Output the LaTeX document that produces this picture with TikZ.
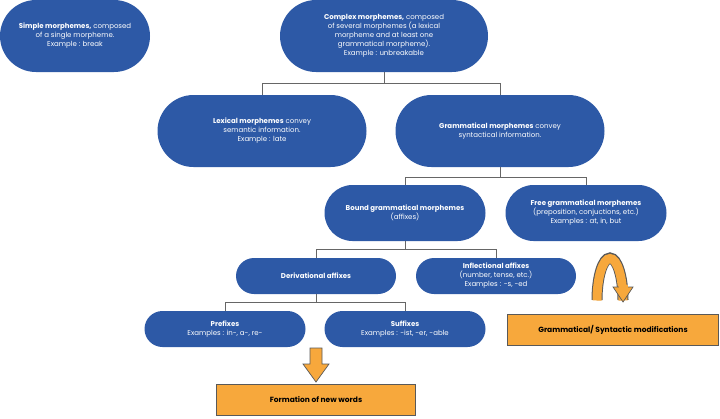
\documentclass[tikz,border=0pt]{standalone}
\usepackage{fontspec}
\setmainfont{Poppins}
\definecolor{morphblue}{HTML}{2D59A6}
\definecolor{morphorange}{HTML}{F7A83C}
\tikzset{
  pill/.style={fill=morphblue, text=white, align=center, inner sep=0pt,
    font=\fontsize{7}{9}\selectfont},
  link/.style={draw=gray!80!black, line width=1pt},
  result/.style={fill=morphorange, draw=gray!70!black, line width=0.8pt,
    font=\fontsize{7.5}{9}\selectfont\bfseries, inner sep=0pt}
}
\newcommand{\pillnode}[6]{% name, cx, cy, w, h, text
  \fill[morphblue, rounded corners=#5*0.5pt] (#2-#4/2,#3-#5/2) rectangle (#2+#4/2,#3+#5/2);
  \node[pill] (#1) at (#2,#3) {#6};
  \coordinate (#1-t) at (#2,#3-#5/2);
  \coordinate (#1-b) at (#2,#3+#5/2);}
\begin{document}
\begin{tikzpicture}[x=1pt,y=-1pt]
  \useasboundingbox (0,0) rectangle (720,418);
  % top row
  \pillnode{simple}{75}{36}{150}{72}{\textbf{Simple morphemes,} composed\\of a single morpheme.\\Example : break}
  \pillnode{complex}{384}{36}{208}{72}{\textbf{Complex morphemes,} composed\\of several morphemes (a lexical\\morpheme and at least one\\grammatical morpheme).\\Example : unbreakable}
  % second row
  \pillnode{lexical}{262}{131}{209}{72}{\textbf{Lexical morphemes} convey\\semantic information.\\Example : late}
  \pillnode{gram}{500}{131}{209}{72}{\textbf{Grammatical morphemes} convey\\syntactical information.}
  % third row
  \pillnode{bound}{405}{213}{161}{56}{\textbf{Bound grammatical morphemes}\\(affixes)}
  \pillnode{free}{586}{213}{161}{56}{\textbf{Free grammatical morphemes}\\(preposition, conjuctions, etc.)\\Examples : at, in, but}
  % affixes
  \pillnode{deriv}{316}{276}{160}{36}{\textbf{Derivational affixes}}
  \pillnode{infl}{496}{276}{160}{36}{\textbf{Inflectional affixes}\\(number, tense, etc.)\\Examples : -s, -ed}
  \pillnode{prefix}{225}{329}{161}{36}{\textbf{Prefixes}\\Examples : in-, a-, re-}
  \pillnode{suffix}{405}{329}{161}{36}{\textbf{Suffixes}\\Examples : -ist, -er, -able}
  % tree links
  \draw[link] (complex-b) -- ++(0,11) -| (lexical-t);
  \draw[link] (complex-b) -- ++(0,11) -| (gram-t);
  \draw[link] (gram-b) -- ++(0,10) -| (bound-t);
  \draw[link] (gram-b) -- ++(0,10) -| (free-t);
  \draw[link] (bound-b) -- ++(0,8) -| (deriv-t);
  \draw[link] (bound-b) -- ++(0,8) -| (infl-t);
  \draw[link] (deriv-b) -- ++(0,8) -| (prefix-t);
  \draw[link] (deriv-b) -- ++(0,8) -| (suffix-t);
  % outcomes
  \node[result, minimum width=199pt, minimum height=31pt] (newwords) at (316,400) {Formation of new words};
  \node[result, minimum width=211pt, minimum height=31pt] (syntax) at (613,330) {Grammatical/ Syntactic modifications};
  \draw[fill=morphorange, draw=gray!70!black, line width=0.7pt]
    (310,348) -- (322,348) -- (322,364) -- (329,364) -- (316,382) -- (303,364) -- (310,364) -- cycle;
  % curved arrow
  \draw[gray!70!black, line width=11pt] (597,300) arc[start angle=180, end angle=0, x radius=13pt, y radius=42pt];
  \draw[morphorange, line width=9pt] (597,300.5) arc[start angle=180, end angle=0, x radius=13pt, y radius=42pt];
  \draw[fill=morphorange, draw=gray!70!black, line width=0.7pt]
    (613,287) -- (633,287) -- (623,302) -- cycle;
  \fill[morphorange] (618.5,285) rectangle (627.5,288);
\end{tikzpicture}
\end{document}
